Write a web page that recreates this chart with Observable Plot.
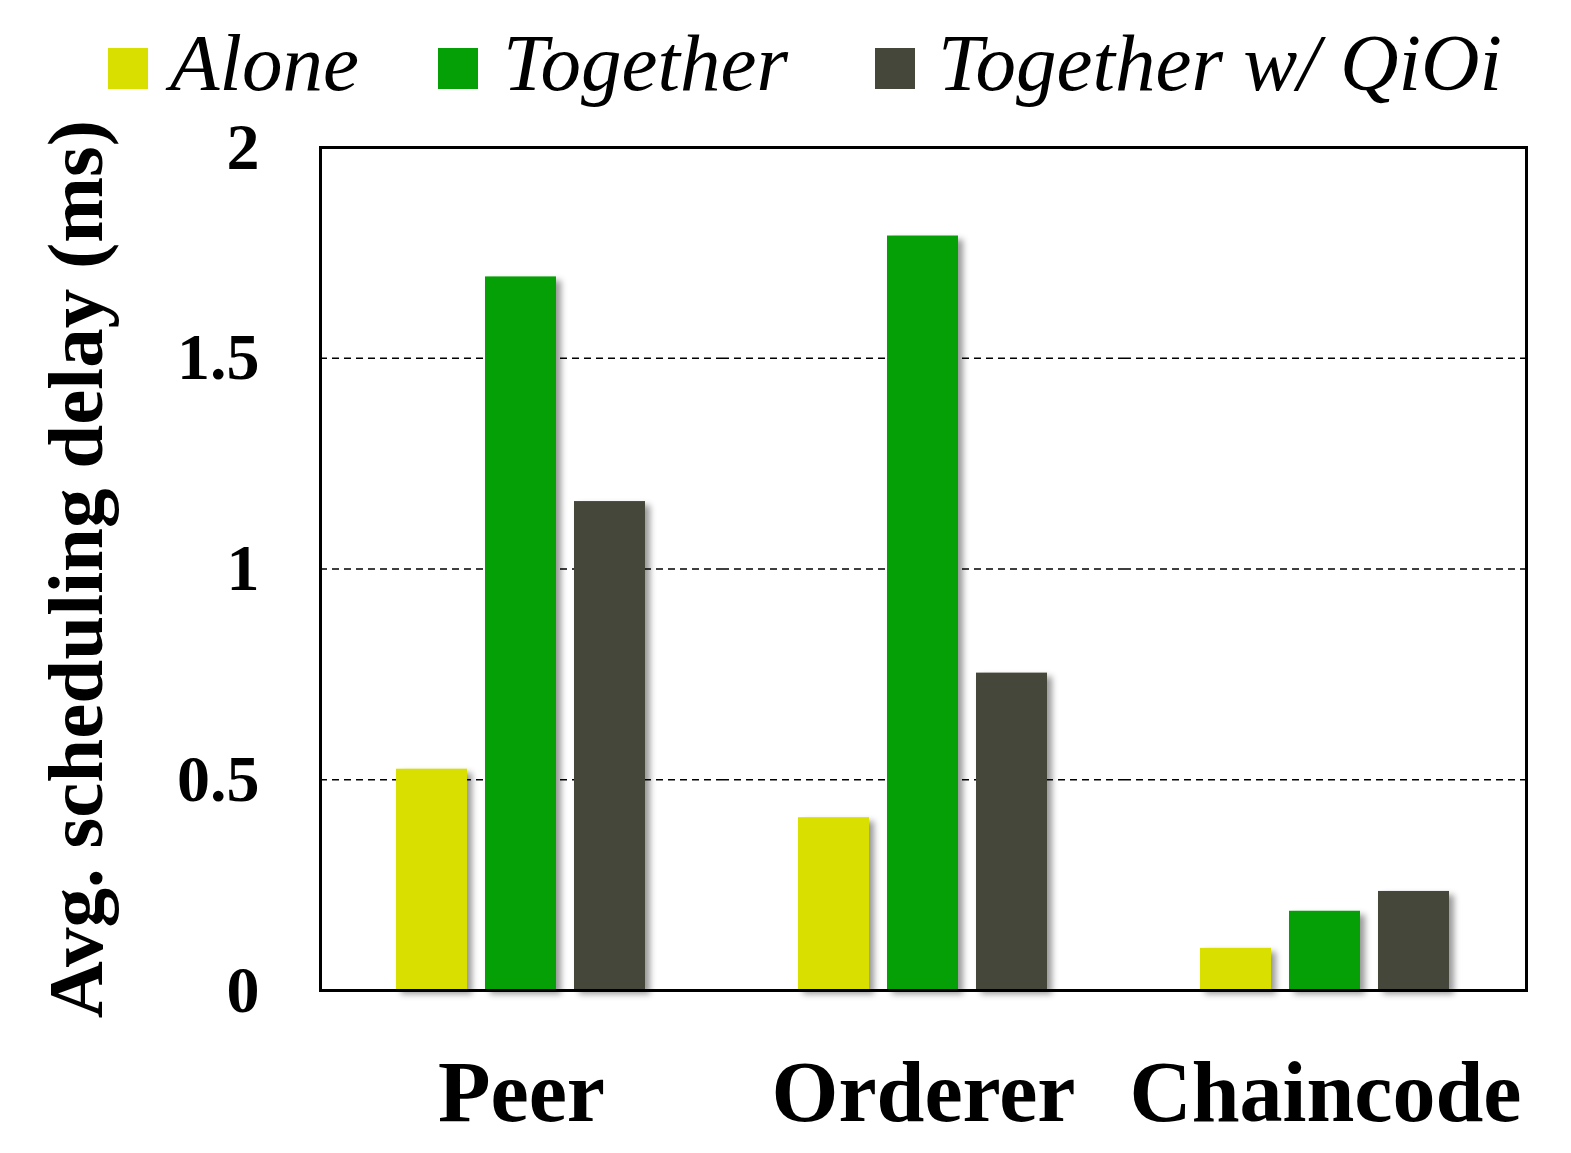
<!DOCTYPE html>
<html>
<head>
<meta charset="utf-8">
<script src="https://cdn.jsdelivr.net/npm/d3@7"></script>
<script src="https://cdn.jsdelivr.net/npm/@observablehq/plot@0.6"></script>
<style>
  body { margin: 0; background: #fff; }
  #legend { position: relative; width: 1571px; height: 115px; font-family: "Liberation Serif", "Times New Roman", serif; }
  .sw { position: absolute; top: 48px; width: 40px; height: 41px; }
  .lt { position: absolute; top: 23px; font-size: 81px; line-height: 1; font-style: italic; color: #000; white-space: nowrap; }
  #chart svg { display: block; }
</style>
</head>
<body>
<div id="legend"></div>
<div id="chart"></div>
<script>
const categories = ["Peer", "Orderer", "Chaincode"];
const seriesNames = ["Alone", "Together", "Together w/ QiOi"];
const seriesColors = ["#d9e000", "#05a005", "#45473a"];
const aloneValues = [0.525, 0.41, 0.10];
const togetherValues = [1.693, 1.79, 0.188];
const qioiValues = [1.16, 0.753, 0.235];
const yTicks = [0, 0.5, 1, 1.5, 2];
const gridTicks = [0.5, 1, 1.5];

const seriesValues = [aloneValues, togetherValues, qioiValues];
const data = [];
categories.forEach((c, ci) => {
  seriesNames.forEach((s, si) => {
    data.push({cat: c, series: s, value: seriesValues[si][ci]});
  });
});

// Legend (HTML, above the SVG)
const legend = document.getElementById("legend");
const swatchLeft = [108, 438, 875];
const textLeft = [170, 503, 938];
seriesNames.forEach((s, i) => {
  const sw = document.createElement("div");
  sw.className = "sw";
  sw.style.left = swatchLeft[i] + "px";
  sw.style.background = seriesColors[i];
  legend.appendChild(sw);
  const t = document.createElement("div");
  t.className = "lt";
  t.style.left = textLeft[i] + "px";
  t.textContent = s;
  legend.appendChild(t);
});

const chart = Plot.plot({
  width: 1571,
  height: 1038,
  marginTop: 32,
  marginBottom: 163,
  marginLeft: 319,
  marginRight: 44,
  style: {fontFamily: "'Liberation Serif', 'Times New Roman', serif", background: "#fff", color: "#000"},
  fx: {domain: categories, padding: 0, label: null, axis: null},
  x: {domain: seriesNames, paddingInner: 0.2, paddingOuter: 0.837, axis: null},
  y: {domain: [0, 2], ticks: yTicks, label: null},
  color: {domain: seriesNames, range: seriesColors},
  marks: [
    Plot.ruleY(gridTicks, {stroke: "#000", strokeWidth: 1.5, strokeDasharray: "7,5"}),
    Plot.barY(data, {fx: "cat", x: "series", y: "value", fill: "series"}),
    Plot.axisY({ticks: yTicks, tickFormat: d => String(d), tickSize: 0, tickPadding: 61, fontSize: 66, fontWeight: "bold",
      label: "Avg. scheduling delay (ms)", labelArrow: "none", labelAnchor: "center", labelOffset: 275}),
    Plot.axisFx({anchor: "bottom", tickSize: 0, tickPadding: 69, fontSize: 86, fontWeight: "bold", label: null}),
    Plot.frame({stroke: "#000", strokeWidth: 3, facet: "super"})
  ]
});
document.getElementById("chart").appendChild(chart);

// style the y-axis label
chart.querySelectorAll('g[aria-label="y-axis label"] text').forEach(t => {
  t.setAttribute("font-size", "79");
  t.style.fontSize = "79px";
  t.setAttribute("font-weight", "bold");
});
// soft shadow on bars
chart.querySelectorAll('g[aria-label="bar"]').forEach(g => {
  g.style.filter = "drop-shadow(5px 4px 3px rgba(0,0,0,0.4))";
});
</script>
</body>
</html>
